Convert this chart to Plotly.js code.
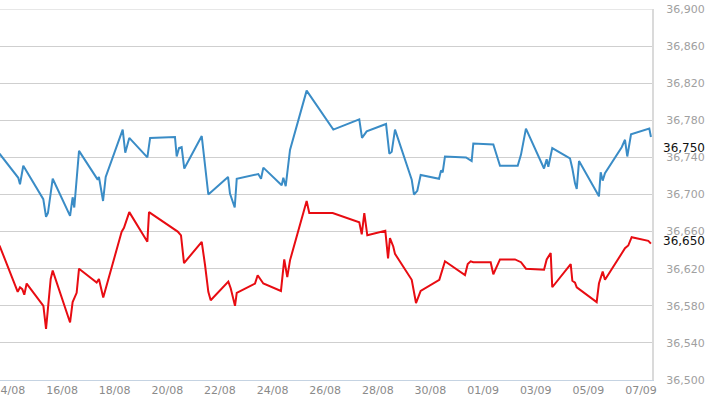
<!DOCTYPE html>
<html>
<head>
<meta charset="utf-8">
<script src="https://cdn.plot.ly/plotly-3.0.1.min.js"></script>
<style>
  html, body { margin: 0; padding: 0; background: #ffffff; }
  #chart { width: 710px; height: 399px; }
</style>
</head>
<body>
<div id="chart"></div>
<script>
// Blue series (upper line)
const blueDates = [
  "2023-08-13 15:00", "2023-08-14 08:05", "2023-08-14 09:40", "2023-08-14 12:40",
  "2023-08-15 06:55", "2023-08-15 09:25", "2023-08-15 11:10", "2023-08-15 15:30",
  "2023-08-16 07:20", "2023-08-16 09:40", "2023-08-16 11:10", "2023-08-16 15:30",
  "2023-08-17 08:30", "2023-08-17 09:40", "2023-08-17 13:25", "2023-08-17 15:50",
  "2023-08-18 07:20", "2023-08-18 09:40", "2023-08-18 13:20",
  "2023-08-19 05:50", "2023-08-19 08:20",
  "2023-08-20 07:00", "2023-08-20 08:35", "2023-08-20 10:40", "2023-08-20 13:05", "2023-08-20 15:30",
  "2023-08-21 07:25", "2023-08-21 13:25",
  "2023-08-22 07:25", "2023-08-22 09:10", "2023-08-22 13:30", "2023-08-22 15:20",
  "2023-08-23 11:00", "2023-08-23 13:30", "2023-08-23 15:35",
  "2023-08-24 08:20", "2023-08-24 09:50", "2023-08-24 12:00", "2023-08-24 15:55",
  "2023-08-25 07:05",
  "2023-08-26 07:25",
  "2023-08-27 07:05", "2023-08-27 09:35", "2023-08-27 13:50",
  "2023-08-28 07:30", "2023-08-28 10:30", "2023-08-28 12:40", "2023-08-28 15:40",
  "2023-08-29 06:55", "2023-08-29 09:00", "2023-08-29 12:00", "2023-08-29 15:05",
  "2023-08-30 07:50", "2023-08-30 09:40", "2023-08-30 11:10", "2023-08-30 13:15",
  "2023-08-31 08:25", "2023-08-31 13:35", "2023-08-31 15:05",
  "2023-09-01 09:20", "2023-09-01 15:25",
  "2023-09-02 07:35", "2023-09-02 10:35", "2023-09-02 15:05",
  "2023-09-03 07:35", "2023-09-03 10:00", "2023-09-03 11:30", "2023-09-03 15:05",
  "2023-09-04 07:15", "2023-09-04 09:25", "2023-09-04 11:50", "2023-09-04 13:25", "2023-09-04 15:30",
  "2023-09-05 09:40", "2023-09-05 11:15", "2023-09-05 13:05", "2023-09-05 15:10",
  "2023-09-06 06:25", "2023-09-06 09:25", "2023-09-06 11:30", "2023-09-06 14:55",
  "2023-09-07 07:35", "2023-09-07 09:05"
];
const blueValues = [
  36744, 36718, 36711, 36731,
  36695, 36676, 36680, 36717,
  36677, 36697, 36686, 36747,
  36716, 36719, 36693, 36719,
  36770, 36745, 36761,
  36740, 36761,
  36762, 36741, 36750, 36751, 36728,
  36763, 36700,
  36719, 36701, 36686, 36717,
  36722, 36717, 36729,
  36710, 36718, 36709, 36748,
  36812,
  36770,
  36781, 36761, 36768,
  36776, 36744, 36746, 36770,
  36716, 36700, 36704, 36721,
  36717, 36726, 36724, 36741,
  36740, 36736, 36755,
  36754, 36731,
  36731, 36743, 36771,
  36728, 36738, 36730, 36750,
  36739, 36728, 36712, 36706, 36736,
  36698, 36724, 36715, 36723,
  36751, 36759, 36741, 36765,
  36771, 36762
];

// Red series (lower line)
const redDates = [
  "2023-08-13 15:00", "2023-08-14 07:35", "2023-08-14 09:40", "2023-08-14 11:45", "2023-08-14 13:35", "2023-08-14 15:45",
  "2023-08-15 07:00", "2023-08-15 09:25", "2023-08-15 13:40", "2023-08-15 15:30",
  "2023-08-16 07:20", "2023-08-16 09:40", "2023-08-16 13:20", "2023-08-16 15:30",
  "2023-08-17 07:35", "2023-08-17 09:40", "2023-08-17 13:35",
  "2023-08-18 06:25", "2023-08-18 08:30", "2023-08-18 13:20",
  "2023-08-19 05:50", "2023-08-19 07:20",
  "2023-08-20 09:30", "2023-08-20 12:30", "2023-08-20 15:15",
  "2023-08-21 07:25", "2023-08-21 10:25", "2023-08-21 13:25", "2023-08-21 15:35",
  "2023-08-22 07:40", "2023-08-22 09:50", "2023-08-22 13:45", "2023-08-22 15:20",
  "2023-08-23 08:00", "2023-08-23 10:25", "2023-08-23 12:30", "2023-08-23 15:35",
  "2023-08-24 07:40", "2023-08-24 10:40", "2023-08-24 13:25", "2023-08-24 15:55",
  "2023-08-25 07:05", "2023-08-25 09:30",
  "2023-08-26 06:50",
  "2023-08-27 07:05", "2023-08-27 09:20", "2023-08-27 11:40", "2023-08-27 14:25",
  "2023-08-28 06:50", "2023-08-28 09:20", "2023-08-28 11:05", "2023-08-28 14:05", "2023-08-28 15:40",
  "2023-08-29 06:55", "2023-08-29 10:50", "2023-08-29 15:05",
  "2023-08-30 08:05", "2023-08-30 13:15",
  "2023-08-31 07:30", "2023-08-31 10:00", "2023-08-31 12:40", "2023-08-31 15:05",
  "2023-09-01 06:55", "2023-09-01 09:20", "2023-09-01 15:25",
  "2023-09-02 05:05", "2023-09-02 10:35", "2023-09-02 15:05",
  "2023-09-03 07:35", "2023-09-03 10:00", "2023-09-03 13:40", "2023-09-03 15:05",
  "2023-09-04 07:55", "2023-09-04 09:25", "2023-09-04 11:50", "2023-09-04 13:25",
  "2023-09-05 07:35", "2023-09-05 09:40", "2023-09-05 13:05", "2023-09-05 15:10",
  "2023-09-06 06:25", "2023-09-06 09:25", "2023-09-06 12:25", "2023-09-06 15:30",
  "2023-09-07 06:40", "2023-09-07 09:05"
];
const redValues = [
  36645, 36595, 36600, 36598, 36592, 36604,
  36580, 36555, 36609, 36618,
  36562, 36584, 36594, 36620,
  36605, 36609, 36589,
  36660, 36664, 36681,
  36649, 36681,
  36660, 36656, 36626,
  36649, 36624, 36595, 36586,
  36606, 36599, 36580, 36594,
  36604, 36613, 36609, 36604,
  36596, 36630, 36611, 36629,
  36693, 36680,
  36680,
  36670, 36657, 36680, 36656,
  36661, 36631, 36653, 36644, 36636,
  36608, 36583, 36596,
  36608, 36628,
  36613, 36625, 36628, 36627,
  36627, 36614, 36630,
  36630, 36627, 36620,
  36619, 36630, 36637, 36600,
  36625, 36607, 36605, 36600,
  36584, 36604, 36617, 36608,
  36637, 36642, 36645, 36654,
  36650, 36647
];

// Axis / label data
const yTickValues = [36500, 36540, 36580, 36620, 36660, 36700, 36740, 36780, 36820, 36860, 36900];
const lastLabels = [36750, 36650];
const lastLabelText = ["36,750", "36,650"];

const traces = [
  {
    x: blueDates, y: blueValues, type: "scatter", mode: "lines",
    line: { color: "#3a8cc6", width: 2 }, hoverinfo: "skip"
  },
  {
    x: redDates, y: redValues, type: "scatter", mode: "lines",
    line: { color: "#e80c12", width: 2 }, hoverinfo: "skip"
  }
];

const annotations = lastLabels.map((v, i) => ({
  xref: "paper", yref: "y", x: 1, y: v,
  xanchor: "left", yanchor: "middle", xshift: 9,
  text: lastLabelText[i], showarrow: false,
  font: { family: "DejaVu Sans, Verdana, sans-serif", size: 12, color: "#111111" }
}));

const layout = {
  width: 710, height: 399,
  margin: { l: 0, r: 58, t: 9, b: 19, pad: 0 },
  paper_bgcolor: "#ffffff", plot_bgcolor: "#ffffff",
  showlegend: false,
  xaxis: {
    type: "date",
    range: ["2023-08-13 15:26", "2023-09-07 10:03"],
    tick0: "2023-08-14", dtick: 2 * 86400000,
    tickformat: "%d/%m",
    showgrid: false, zeroline: false,
    showline: true, linecolor: "#c5d3e2", linewidth: 1,
    ticks: "", ticklabeloverflow: "allow",
    minor: { ticks: "outside", ticklen: 5, tickcolor: "#c5d3e2", tickwidth: 1,
             tick0: "2023-08-14", dtick: 2 * 86400000, showgrid: false },
    tickfont: { family: "DejaVu Sans, Verdana, sans-serif", size: 11, color: "#8a8a8a" }
  },
  yaxis: {
    side: "right",
    range: [36500, 36900],
    tickmode: "array", tickvals: yTickValues,
    tickformat: ",d",
    showgrid: true, gridcolor: "#cfcfcf", gridwidth: 1,
    zeroline: false,
    showline: true, linecolor: "#dadada", linewidth: 2,
    ticks: "outside", ticklen: 10, tickcolor: "rgba(0,0,0,0)",
    ticklabeloverflow: "allow",
    tickfont: { family: "DejaVu Sans, Verdana, sans-serif", size: 11, color: "#a0a0a0" }
  },
  shapes: [
    { type: "line", xref: "paper", yref: "y", x0: 0, x1: 1, y0: yTickValues[yTickValues.length - 1], y1: yTickValues[yTickValues.length - 1],
      line: { color: "#cfcfcf", width: 1 } }
  ],
  annotations: annotations
};

Plotly.newPlot("chart", traces, layout, { staticPlot: true, displayModeBar: false });
</script>
</body>
</html>
